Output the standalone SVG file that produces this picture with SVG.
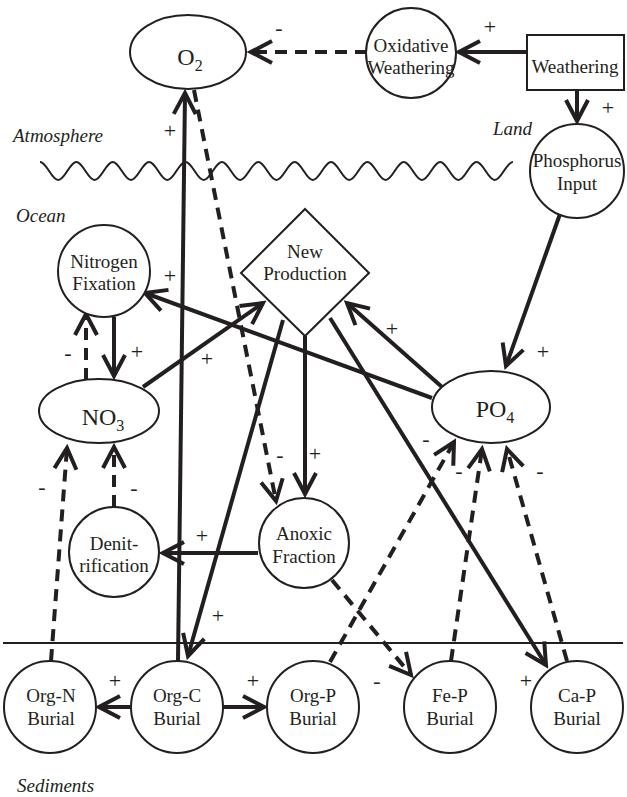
<svg xmlns="http://www.w3.org/2000/svg" width="627" height="797" viewBox="0 0 627 797">
<style>
.node{fill:#fff;stroke:#231f20;stroke-width:2}
.t{font-family:"Liberation Serif","Times New Roman",serif;font-size:19px;fill:#231f20;text-anchor:middle}
.big{font-family:"Liberation Serif","Times New Roman",serif;font-size:24px;fill:#231f20;text-anchor:middle}
.sub{font-size:16px}
.it{font-family:"Liberation Serif","Times New Roman",serif;font-size:19px;font-style:italic;fill:#231f20}
.lbl{font-family:"Liberation Serif","Times New Roman",serif;font-size:22px;fill:#231f20;text-anchor:middle}
.s{fill:none;stroke:#231f20;stroke-width:4;marker-end:url(#ah)}
.d{fill:none;stroke:#231f20;stroke-width:4;stroke-dasharray:12 8;marker-end:url(#ah)}
.thin{fill:none;stroke:#231f20;stroke-width:2}
</style>
<defs>
<marker id="ah" markerUnits="userSpaceOnUse" viewBox="-26 -15 30 30" markerWidth="30" markerHeight="30" refX="0" refY="0" orient="auto">
<path d="M-21,-11 L0,0 L-21,11" fill="none" stroke="#231f20" stroke-width="4" stroke-linejoin="miter"/>
</marker>
</defs>
<rect width="627" height="797" fill="#fff"/>
<g id="background">
<path class="thin" d="M40,162 c6.62,0 11.57,18 18.19,18 s11.57,-18 18.19,-18 s11.57,18 18.19,18 s11.57,-18 18.19,-18 s11.57,18 18.19,18 s11.57,-18 18.19,-18 s11.57,18 18.19,18 s11.57,-18 18.19,-18 s11.57,18 18.19,18 s11.57,-18 18.19,-18 s11.57,18 18.19,18 s11.57,-18 18.19,-18 s11.57,18 18.19,18 s11.57,-18 18.19,-18 s11.57,18 18.19,18 s11.57,-18 18.19,-18 s11.57,18 18.19,18 s11.57,-18 18.19,-18 s11.57,18 18.19,18 s11.57,-18 18.19,-18 s11.57,18 18.19,18 s11.57,-18 18.19,-18 s11.57,18 18.19,18 s11.57,-18 18.19,-18 s11.57,18 18.19,18 s11.57,-18 18.19,-18"/>
<line class="thin" x1="3" y1="643" x2="623" y2="643"/>
<text class="it" x="13" y="142">Atmosphere</text>
<text class="it" x="16" y="222">Ocean</text>
<text class="it" x="493" y="135">Land</text>
<text class="it" x="17" y="792">Sediments</text>
</g>
<g id="connectors">
<line class="s" x1="527" y1="52" x2="459" y2="52"/>
<line class="d" x1="367" y1="52" x2="251" y2="52"/>
<line class="s" x1="577" y1="90" x2="577" y2="121"/>
<line class="s" x1="178" y1="661" x2="185" y2="93"/>
<line class="d" x1="194" y1="90" x2="276" y2="501"/>
<line class="s" x1="560" y1="214" x2="506" y2="366"/>
<line class="s" x1="442" y1="387" x2="347" y2="303"/>
<line class="s" x1="432" y1="398" x2="145" y2="293"/>
<line class="s" x1="114" y1="317" x2="114" y2="376"/>
<line class="d" x1="86" y1="380" x2="86" y2="314"/>
<line class="s" x1="143" y1="387" x2="263" y2="303"/>
<line class="s" x1="283" y1="320" x2="188" y2="656"/>
<line class="s" x1="305" y1="336" x2="305" y2="494"/>
<line class="s" x1="330" y1="318" x2="546" y2="665"/>
<line class="s" x1="258" y1="553" x2="163" y2="553"/>
<line class="d" x1="114" y1="507" x2="114" y2="447"/>
<line class="d" x1="51" y1="661" x2="67" y2="448"/>
<line class="d" x1="332" y1="580" x2="411" y2="675"/>
<line class="d" x1="330" y1="662" x2="454" y2="442"/>
<line class="d" x1="451" y1="661" x2="482" y2="449"/>
<line class="d" x1="567" y1="661" x2="507" y2="449"/>
<line class="s" x1="132" y1="707" x2="99" y2="707"/>
<line class="s" x1="223" y1="707" x2="264" y2="707"/>
</g>
<g id="labels">
<text class="lbl" x="490" y="34">+</text>
<text class="lbl" x="279" y="35">-</text>
<text class="lbl" x="608" y="115">+</text>
<text class="lbl" x="170" y="138">+</text>
<text class="lbl" x="280" y="462">-</text>
<text class="lbl" x="543" y="359">+</text>
<text class="lbl" x="392" y="336">+</text>
<text class="lbl" x="170" y="283">+</text>
<text class="lbl" x="137" y="359">+</text>
<text class="lbl" x="68" y="360">-</text>
<text class="lbl" x="207" y="366">+</text>
<text class="lbl" x="218" y="623">+</text>
<text class="lbl" x="315" y="461">+</text>
<text class="lbl" x="526" y="688">+</text>
<text class="lbl" x="202" y="543">+</text>
<text class="lbl" x="134" y="495">-</text>
<text class="lbl" x="42" y="494">-</text>
<text class="lbl" x="377" y="688">-</text>
<text class="lbl" x="426" y="446">-</text>
<text class="lbl" x="459" y="478">-</text>
<text class="lbl" x="540" y="478">-</text>
<text class="lbl" x="115" y="688">+</text>
<text class="lbl" x="253" y="688">+</text>
</g>
<g id="o2"><ellipse class="node" cx="188" cy="52" rx="58" ry="37"/><text class="big" x="190" y="65">O<tspan class="sub" dy="6">2</tspan></text></g>
<g id="oxidative-weathering"><circle class="node" cx="411" cy="53" r="45"/><text class="t" x="411" y="52">Oxidative</text><text class="t" x="411" y="74">Weathering</text></g>
<g id="weathering"><rect class="node" x="527" y="35" width="97" height="55"/><text class="t" x="575" y="73">Weathering</text></g>
<g id="phosphorus-input"><circle class="node" cx="577" cy="171" r="47"/><text class="t" x="577" y="167">Phosphorus</text><text class="t" x="577" y="190">Input</text></g>
<g id="nitrogen-fixation"><circle class="node" cx="104" cy="271" r="46"/><text class="t" x="104" y="268">Nitrogen</text><text class="t" x="104" y="290">Fixation</text></g>
<g id="new-production"><polygon class="node" points="305,209 369,273 305,336 241,273"/><text class="t" x="305" y="258">New</text><text class="t" x="305" y="280">Production</text></g>
<g id="no3"><ellipse class="node" cx="99" cy="411" rx="60" ry="32"/><text class="big" x="103" y="425">NO<tspan class="sub" dy="6">3</tspan></text></g>
<g id="po4"><ellipse class="node" cx="491" cy="407" rx="59" ry="36"/><text class="big" x="495" y="417">PO<tspan class="sub" dy="6">4</tspan></text></g>
<g id="denitrification"><circle class="node" cx="114" cy="552" r="45"/><text class="t" x="114" y="550">Denit-</text><text class="t" x="114" y="572">rification</text></g>
<g id="anoxic-fraction"><circle class="node" cx="304" cy="543" r="45"/><text class="t" x="304" y="540">Anoxic</text><text class="t" x="304" y="563">Fraction</text></g>
<g id="org-n-burial"><circle class="node" cx="50" cy="707" r="46"/><text class="t" x="51" y="702">Org-N</text><text class="t" x="51" y="725">Burial</text></g>
<g id="org-c-burial"><circle class="node" cx="177" cy="707" r="46"/><text class="t" x="177" y="702">Org-C</text><text class="t" x="177" y="725">Burial</text></g>
<g id="org-p-burial"><circle class="node" cx="313" cy="707" r="46"/><text class="t" x="313" y="702">Org-P</text><text class="t" x="313" y="725">Burial</text></g>
<g id="fe-p-burial"><circle class="node" cx="450" cy="707" r="46"/><text class="t" x="450" y="702">Fe-P</text><text class="t" x="450" y="725">Burial</text></g>
<g id="ca-p-burial"><circle class="node" cx="577" cy="707" r="46"/><text class="t" x="577" y="702">Ca-P</text><text class="t" x="577" y="725">Burial</text></g>
</svg>
